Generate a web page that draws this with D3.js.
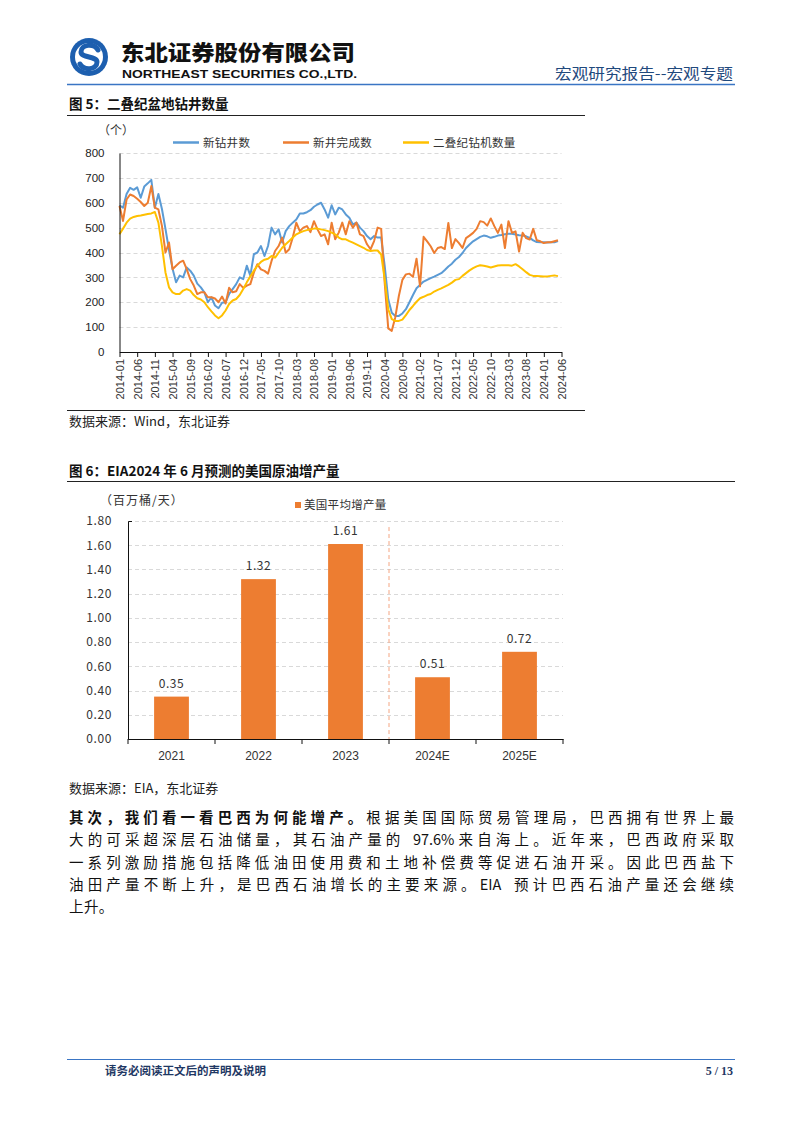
<!DOCTYPE html>
<html><head><meta charset="utf-8">
<script src="https://cdn.jsdelivr.net/npm/d3@7"></script>
<style>body{margin:0;background:#fff}svg{display:block}</style>
</head><body>
<svg id="page" width="802" height="1133"></svg>
<script>
// ---------- Chart 1 data (monthly, starting 2014-01) ----------
const startYear = 2014, startMonthNum = 1;
const newDrilled = [590,580,635,660,652,662,620,665,678,692,580,635,575,495,410,335,280,307,300,340,
327,307,275,260,240,200,220,187,176,198,200,233,253,273,300,293,347,307,393,400,
426,386,426,500,473,493,440,486,506,520,533,557,557,562,570,584,593,600,573,540,
590,553,580,573,553,540,513,520,500,486,466,453,466,460,460,346,212,158,145,145,
155,172,200,229,256,270,283,290,297,303,310,317,330,344,355,371,382,398,418,432,
445,454,463,468,465,459,463,468,470,473,475,475,472,469,468,465,459,449,442,441,
441,440,441,441,446];
const newCompleted = [587,527,613,633,627,616,603,587,600,667,580,573,507,400,440,333,347,360,367,333,
293,267,233,240,240,220,220,215,200,223,195,258,240,244,273,258,267,273,320,353,
332,326,315,366,406,426,460,399,413,460,520,486,500,506,482,526,493,466,473,433,
520,453,480,520,473,526,500,520,473,466,433,413,446,500,495,278,95,85,140,225,
290,312,315,302,375,264,463,445,425,398,418,422,414,519,418,454,438,418,458,468,
479,495,526,522,508,537,506,479,512,418,526,479,485,404,479,458,452,495,449,445,
438,441,441,445,449];
const permianRigs = [473,496,520,536,543,547,549,552,555,557,563,520,427,320,260,240,233,233,247,253,
247,229,216,211,200,180,163,147,136,147,167,193,207,213,229,253,280,304,327,347,
362,371,375,386,379,399,419,433,446,460,473,480,486,490,493,496,496,493,490,486,
480,473,460,453,453,446,440,433,426,419,410,406,408,408,392,292,172,132,125,125,
130,148,169,185,202,216,222,229,233,243,250,256,263,270,279,290,293,306,317,328,
337,344,349,347,344,340,344,348,349,349,349,347,353,344,333,321,310,306,306,305,
304,304,306,308,305];
const seriesNames1 = ["新钻井数","新井完成数","二叠纪钻机数量"];
const xTickLabels1 = ["2014-01","2014-06","2014-11","2015-04","2015-09","2016-02","2016-07","2016-12",
"2017-05","2017-10","2018-03","2018-08","2019-01","2019-06","2019-11","2020-04","2020-09","2021-02",
"2021-07","2021-12","2022-05","2022-10","2023-03","2023-08","2024-01","2024-06"];
const yTicks1 = [0,100,200,300,400,500,600,700,800];

// ---------- Chart 2 data ----------
const years2 = ["2021","2022","2023","2024E","2025E"];
const usIncrease = [0.35,1.32,1.61,0.51,0.72];
const yTicks2 = [0,0.2,0.4,0.6,0.8,1.0,1.2,1.4,1.6,1.8];

// ---------- text ----------
const paraLines = [
  ["其次，我们看一看巴西为何能增产。","根据美国国际贸易管理局，巴西拥有世界上最"],
  ["","大的可采超深层石油储量，其石油产量的 97.6%来自海上。近年来，巴西政府采取"],
  ["","一系列激励措施包括降低油田使用费和土地补偿费等促进石油开采。因此巴西盐下"],
  ["","油田产量不断上升，是巴西石油增长的主要来源。EIA 预计巴西石油产量还会继续"],
  ["","上升。"]
];

const svg = d3.select("#page");
svg.append("rect").attr("width",802).attr("height",1133).attr("fill","#fff");
const CJK = "'Noto Sans CJK SC','Noto Sans',sans-serif";
const SANS = "'Liberation Sans',Arial,sans-serif";

// ---------- header ----------
const logo = svg.append("g");
logo.append("circle").attr("cx",89).attr("cy",57).attr("r",19).attr("fill","#1D5FAF");
logo.append("circle").attr("cx",89).attr("cy",57).attr("r",14).attr("fill","#fff");
logo.append("path").attr("d","M98,50 C94,43 81,44 81,52 C81,58 97,56 97,62 C97,70 84,71 80,64")
  .attr("fill","none").attr("stroke","#1D5FAF").attr("stroke-width",5).attr("stroke-linecap","round");
svg.append("text").attr("x",121).attr("y",59.5).attr("font-family",CJK).attr("font-weight",900)
  .attr("font-size",21).attr("textLength",234).attr("lengthAdjust","spacingAndGlyphs").attr("fill","#111")
  .text("东北证券股份有限公司");
svg.append("text").attr("x",122).attr("y",78).attr("font-family",SANS).attr("font-weight",700)
  .attr("font-size",11.5).attr("textLength",235).attr("lengthAdjust","spacingAndGlyphs").attr("fill","#111")
  .text("NORTHEAST SECURITIES CO.,LTD.");
svg.append("text").attr("x",733).attr("y",79).attr("text-anchor","end").attr("font-family",CJK)
  .attr("font-size",15).attr("fill","#1F497D").attr("textLength",178).attr("lengthAdjust","spacingAndGlyphs")
  .text("宏观研究报告--宏观专题");
svg.append("line").attr("x1",67).attr("x2",735).attr("y1",84.5).attr("y2",84.5)
  .attr("stroke","#3A75C4").attr("stroke-width",1.5);

// ---------- Chart 1 ----------
svg.append("text").attr("x",69).attr("y",109).attr("font-family",CJK).attr("font-weight",700)
  .attr("font-size",13.5).attr("fill","#111").text("图 5：二叠纪盆地钻井数量");
svg.append("line").attr("x1",67).attr("x2",585).attr("y1",115.5).attr("y2",115.5).attr("stroke","#222").attr("stroke-width",1);

const monthIndex = s => { const [y,m] = s.split("-").map(Number); return (y-startYear)*12 + (m-startMonthNum); };
const x1 = d3.scaleLinear().domain([0, monthIndex("2024-06")]).range([119.5, 561.5]);
const y1 = d3.scaleLinear().domain([0,800]).range([352, 153]);
const c1 = svg.append("g");
c1.selectAll("line.grid").data(yTicks1.filter(v=>v>0)).join("line")
  .attr("x1",119.5).attr("x2",561.5).attr("y1",d=>Math.round(y1(d))+0.5).attr("y2",d=>Math.round(y1(d))+0.5)
  .attr("stroke","#D9D9D9").attr("stroke-dasharray","4,3");
const colors1 = ["#5B9BD5","#ED7D31","#FFC000"];
const series1 = [newDrilled, newCompleted, permianRigs];
const line1 = d3.line().x((d,i)=>x1(i)).y(d=>y1(d));
series1.forEach((s,k)=>{
  c1.append("path").datum(s).attr("d",line1).attr("fill","none").attr("stroke",colors1[k])
    .attr("stroke-width",2).attr("stroke-linejoin","round");
});
const yAx1 = c1.append("g").attr("transform","translate(119.5,0)")
  .call(d3.axisLeft(y1).tickValues(yTicks1).tickSize(0).tickSizeOuter(0).tickPadding(15));
yAx1.select(".domain").attr("stroke","#111");
yAx1.selectAll("text").attr("font-family",SANS).attr("font-size",11.5).attr("fill","#222");
const xAx1 = c1.append("g").attr("transform","translate(0,352)")
  .call(d3.axisBottom(x1).tickValues(xTickLabels1.map(monthIndex)).tickFormat((d,i)=>xTickLabels1[i]).tickSize(5).tickSizeOuter(0));
xAx1.select(".domain").attr("stroke","#111");
xAx1.selectAll(".tick line").attr("stroke","#111");
xAx1.selectAll("text").attr("transform","rotate(-90)").attr("text-anchor","end")
  .attr("x",-7).attr("y",0).attr("dy","0.35em").attr("font-family",SANS).attr("font-size",11).attr("fill","#333");
svg.append("text").attr("x",98).attr("y",135).attr("font-family",CJK).attr("font-size",12).attr("fill","#333").text("（个）");
const leg1X = [173,283,403];
seriesNames1.forEach((n,k)=>{
  svg.append("line").attr("x1",leg1X[k]).attr("x2",leg1X[k]+26).attr("y1",142.5).attr("y2",142.5)
    .attr("stroke",colors1[k]).attr("stroke-width",2.5);
  svg.append("text").attr("x",leg1X[k]+30).attr("y",147).attr("font-family",CJK).attr("font-size",11.5)
    .attr("fill","#333").attr("letter-spacing",0.3).text(n);
});
svg.append("line").attr("x1",67).attr("x2",585).attr("y1",410.5).attr("y2",410.5).attr("stroke","#222");
svg.append("text").attr("x",69).attr("y",426).attr("font-family",CJK).attr("font-size",13).attr("fill","#222")
  .text("数据来源：Wind，东北证券");

// ---------- Chart 2 ----------
svg.append("text").attr("x",69).attr("y",476).attr("font-family",CJK).attr("font-weight",700)
  .attr("font-size",13.5).attr("fill","#111").text("图 6：EIA2024 年 6 月预测的美国原油增产量");
svg.append("line").attr("x1",67).attr("x2",735).attr("y1",481.5).attr("y2",481.5).attr("stroke","#222");
const x2 = d3.scaleBand().domain(years2).range([128, 563]).paddingInner(0.6).paddingOuter(0.3);
const y2 = d3.scaleLinear().domain([0,1.8]).range([739, 521]);
const c2 = svg.append("g");
c2.selectAll("line.grid").data(yTicks2.filter(v=>v>0)).join("line")
  .attr("x1",128).attr("x2",563).attr("y1",d=>Math.round(y2(d))+0.5).attr("y2",d=>Math.round(y2(d))+0.5)
  .attr("stroke","#D9D9D9").attr("stroke-dasharray","4,3");
c2.selectAll("rect.bar").data(usIncrease).join("rect")
  .attr("x",(d,i)=>x2(years2[i])).attr("width",x2.bandwidth())
  .attr("y",d=>y2(d)).attr("height",d=>y2(0)-y2(d)).attr("fill","#ED7D31");
c2.selectAll("text.val").data(usIncrease).join("text")
  .attr("x",(d,i)=>x2(years2[i])+x2.bandwidth()/2).attr("y",d=>y2(d)-9)
  .attr("text-anchor","middle").attr("font-family",CJK).attr("font-size",12).attr("fill","#333")
  .attr("letter-spacing",0.5).text(d=>d.toFixed(2));
const sepX = x2("2024E") - x2.step()*x2.paddingInner()/2;
c2.append("line").attr("x1",sepX).attr("x2",sepX).attr("y1",y2(1.75)).attr("y2",739)
  .attr("stroke","#F4A582").attr("stroke-dasharray","4,3");
const yAx2 = c2.append("g").attr("transform","translate(128,0)")
  .call(d3.axisLeft(y2).tickValues(yTicks2).tickFormat(d3.format(".2f")).tickSize(0).tickSizeOuter(-4).tickPadding(16));
yAx2.select(".domain").attr("stroke","#111");
yAx2.selectAll("text").attr("font-family",CJK).attr("font-size",12).attr("fill","#333").attr("letter-spacing",0.6);
const xAx2 = c2.append("g").attr("transform","translate(0,739)")
  .call(d3.axisBottom(x2).tickSize(0).tickSizeOuter(0).tickPadding(12));
xAx2.select(".domain").attr("stroke","#111");
xAx2.selectAll("text").attr("font-family","'Liberation Sans Narrow','Liberation Sans',sans-serif").attr("font-size",12).attr("fill","#333");
c2.selectAll("line.bt").data([128, ...years2.slice(1).map(c=>x2(c)-x2.step()*x2.paddingInner()/2), 563]).join("line")
  .attr("x1",d=>d).attr("x2",d=>d).attr("y1",739).attr("y2",744).attr("stroke","#111");
svg.append("text").attr("x",100).attr("y",505).attr("font-family",CJK).attr("font-size",12).attr("fill","#333")
  .attr("letter-spacing",1).text("（百万桶/天）");
svg.append("rect").attr("x",295).attr("y",502).attr("width",6).attr("height",6).attr("fill","#ED7D31");
svg.append("text").attr("x",304).attr("y",509).attr("font-family",CJK).attr("font-size",11.5).attr("fill","#333")
  .attr("letter-spacing",0.3).text("美国平均增产量");
svg.append("text").attr("x",69).attr("y",793).attr("font-family",CJK).attr("font-size",13).attr("fill","#222")
  .text("数据来源：EIA，东北证券");

// ---------- paragraph (justified per line, Latin runs kept tight) ----------
const pLeft = 69, pWidth = 665, pSize = 14.5;
const measure = (s, bold) => {
  const t = svg.append("text").attr("font-family",CJK).attr("font-size",pSize)
    .attr("font-weight",bold?700:400).attr("xml:space","preserve").text(s);
  const w = t.node().getComputedTextLength(); t.remove(); return w;
};
paraLines.forEach((ln,i)=>{
  const tokens = [];
  [[ln[0],true],[ln[1],false]].forEach(([s,b])=>{
    (s.match(/[A-Za-z0-9.%]+|\s|./g)||[]).forEach(tok=>{
      if (tok === " ") { tokens.push({s:"", b, w: pSize*0.3}); }
      else tokens.push({s:tok, b, w: measure(tok,b)});
    });
  });
  const total = d3.sum(tokens, d=>d.w);
  const last = i === paraLines.length-1;
  const gap = last ? 0.4 : (pWidth - total)/(tokens.length-1);
  let cx = pLeft;
  const t = svg.append("text").attr("y",823+i*22.3).attr("font-family",CJK)
    .attr("font-size",pSize).attr("fill","#111");
  tokens.forEach(tok=>{
    if (tok.s) t.append("tspan").attr("x",cx).attr("font-weight",tok.b?700:400).text(tok.s);
    cx += tok.w + gap;
  });
});

// ---------- footer ----------
svg.append("line").attr("x1",67).attr("x2",735).attr("y1",1059.5).attr("y2",1059.5)
  .attr("stroke","#3A75C4").attr("stroke-width",1.2);
svg.append("text").attr("x",105).attr("y",1075).attr("font-family",CJK).attr("font-weight",700)
  .attr("font-size",11.5).attr("fill","#1F3864").text("请务必阅读正文后的声明及说明");
svg.append("text").attr("x",733).attr("y",1075).attr("text-anchor","end").attr("font-family","'Liberation Serif',serif")
  .attr("font-weight",700).attr("font-size",12).attr("fill","#1F3864").text("5 / 13");
</script>
</body></html>
